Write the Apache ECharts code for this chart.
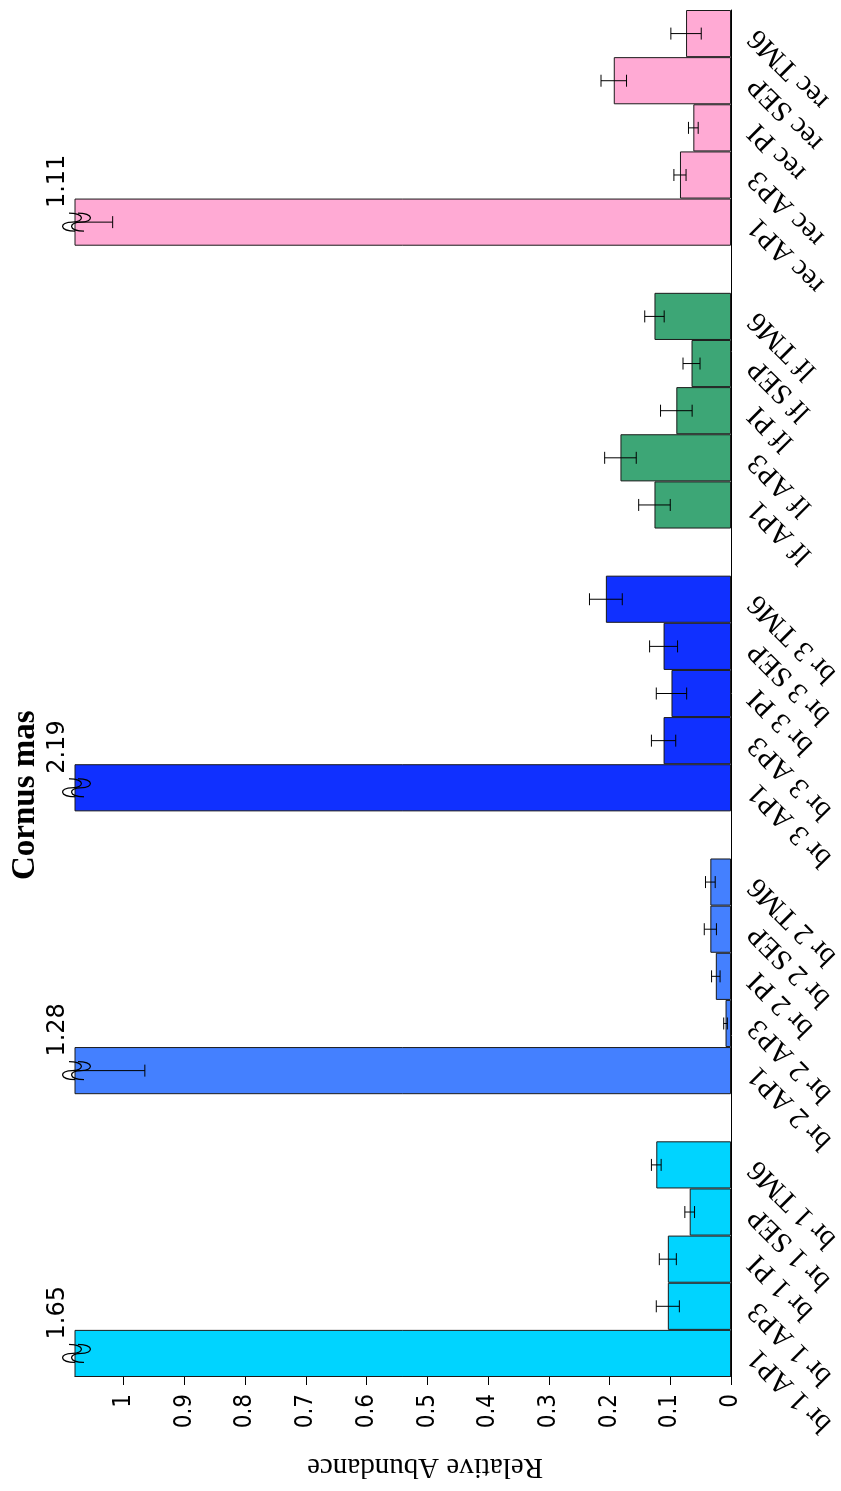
<!DOCTYPE html>
<html>
<head>
<meta charset="utf-8">
<script src="https://cdn.jsdelivr.net/npm/echarts@6/dist/echarts.min.js"></script>
<style>
  html, body { margin: 0; padding: 0; background: #ffffff; width: 841px; height: 1491px; overflow: hidden; }
  /* the chart is laid out landscape and turned a quarter turn counter-clockwise */
  #chart { position: absolute; left: 0; top: 0; width: 1491px; height: 841px;
           transform-origin: 0 0; transform: translate(0, 1491px) rotate(-90deg); }
</style>
</head>
<body>
<div id="chart"></div>
<script>
// sample groups and the five tissues measured in each
const groups = ['br 1', 'br 2', 'br 3', 'lf', 'rec'];
const samples = ['AP1', 'AP3', 'PI', 'SEP', 'TM6'];

// relative abundance (mean) and error per group, in sample order
const br1Values = [1.65, 0.104, 0.104, 0.068, 0.123];
const br1Errors = [0.12, 0.019, 0.014, 0.008, 0.008];
const br2Values = [1.28, 0.009, 0.025, 0.034, 0.034];
const br2Errors = [0.315, 0.003, 0.007, 0.010, 0.008];
const br3Values = [2.19, 0.111, 0.098, 0.111, 0.206];
const br3Errors = [0.15, 0.020, 0.025, 0.023, 0.027];
const lfValues  = [0.126, 0.182, 0.090, 0.065, 0.126];
const lfErrors  = [0.026, 0.026, 0.026, 0.014, 0.016];
const recValues = [1.11, 0.084, 0.062, 0.193, 0.074];
const recErrors = [0.092, 0.010, 0.008, 0.021, 0.025];

const groupColors = ['#00D4FF', '#4480FF', '#1030FF', '#3DA676', '#FFAAD4'];

// value axis: clipped at axisMax, ticks every 0.1 up to 1
const axisMax = 1.08;
const tickValues = [0, 0.1, 0.2, 0.3, 0.4, 0.5, 0.6, 0.7, 0.8, 0.9, 1];

const valueSets = [br1Values, br2Values, br3Values, lfValues, recValues];
const errorSets = [br1Errors, br2Errors, br3Errors, lfErrors, recErrors];

// one empty slot separates neighbouring groups
const categories = [];
const barData = [];
const errData = [];
const breakData = [];
groups.forEach((g, gi) => {
  if (gi > 0) { categories.push(''); barData.push(null); }
  samples.forEach((s, si) => {
    const idx = categories.length;
    const v = valueSets[gi][si];
    const e = errorSets[gi][si];
    categories.push(g + ' ' + s);
    barData.push({ value: v, itemStyle: { color: groupColors[gi] } });
    errData.push([idx, v, e]);
    if (v > axisMax) breakData.push([idx, v]);
  });
});

const chart = echarts.init(document.getElementById('chart'), null, { renderer: 'canvas' });

const line = (x1, y1, x2, y2) => ({
  type: 'line', shape: { x1, y1, x2, y2 },
  style: { stroke: '#000', lineWidth: 1 }
});

// a steep tilde centred on (cx, cy): one hump up, one hump down
const tildePath = (cx, cy, hw, k) =>
  'M' + (cx - hw) + ' ' + (cy + 3) +
  ' C' + (cx - hw) + ' ' + (cy - k) + ' ' + cx + ' ' + (cy - k) + ' ' + cx + ' ' + cy +
  ' C' + cx + ' ' + (cy + k) + ' ' + (cx + hw) + ' ' + (cy + k) + ' ' + (cx + hw) + ' ' + (cy - 3);

chart.setOption({
  animation: false,
  backgroundColor: '#ffffff',
  title: {
    text: 'Cornus mas', left: 606, top: 4,
    textStyle: { fontFamily: 'Liberation Serif', fontWeight: 'bold', fontSize: 33, color: '#000' }
  },
  grid: { left: 114, right: 10, top: 75, bottom: 110, containLabel: false, outerBoundsMode: 'none' },
  xAxis: {
    type: 'category', data: categories,
    axisLine: { lineStyle: { color: '#000', width: 1 } },
    axisTick: { interval: 0, length: 7, lineStyle: { color: '#000' } },
    axisLabel: { interval: 0, rotate: 45, margin: 22, color: '#000',
                 fontFamily: 'Liberation Serif', fontSize: 29 },
    splitLine: { show: false }
  },
  yAxis: {
    type: 'value', min: 0, max: axisMax,
    axisLine: { show: true, lineStyle: { color: '#000', width: 1 } },
    axisTick: { show: true, length: 8, customValues: tickValues, lineStyle: { color: '#000' } },
    axisLabel: { customValues: tickValues, margin: 17, color: '#000',
                 fontFamily: '"DejaVu Sans Condensed", "DejaVu Sans"', fontSize: 24,
                 formatter: v => String(Math.round(v * 10) / 10) },
    splitLine: { show: false }
  },
  graphic: [{
    type: 'text', x: 24, y: 425, rotation: Math.PI / 2,
    style: { text: 'Relative Abundance', fill: '#000', font: '29px "Liberation Serif"',
             textAlign: 'center', textVerticalAlign: 'middle' }
  }],
  series: [
    {
      type: 'bar', data: barData, barCategoryGap: '0%', clip: true,
      itemStyle: { borderColor: '#1a1a1a', borderWidth: 1 }
    },
    {
      // error bars, cut at the top of the value axis
      type: 'custom', data: errData, z: 3,
      renderItem: (params, api) => {
        const i = api.value(0), v = api.value(1), e = api.value(2);
        if (v - e >= axisMax) return null;
        const lo = api.coord([i, v - e]);
        const hi = api.coord([i, Math.min(v + e, axisMax)]);
        const h = 6;
        const kids = [line(lo[0], lo[1], hi[0], hi[1]), line(lo[0] - h, lo[1], lo[0] + h, lo[1])];
        if (v + e <= axisMax) kids.push(line(hi[0] - h, hi[1], hi[0] + h, hi[1]));
        return { type: 'group', children: kids };
      }
    },
    {
      // break marks and the true value of bars taller than the axis
      type: 'custom', data: breakData, z: 4,
      renderItem: (params, api) => {
        const i = api.value(0), v = api.value(1);
        const p = api.coord([i, axisMax]);
        const cx = p[0], ty = p[1];
        const wave = (dy) => ({
          type: 'path',
          shape: { pathData: tildePath(cx, ty + dy, 9, 13) },
          style: { stroke: '#000', lineWidth: 1.2, fill: null }
        });
        return {
          type: 'group',
          children: [
            wave(-3), wave(6),
            { type: 'text', x: cx + 14, y: ty - 5,
              style: { text: String(v), fill: '#000', font: '24px "DejaVu Sans"',
                       textAlign: 'left', textVerticalAlign: 'bottom' } }
          ]
        };
      }
    }
  ]
});
</script>
</body>
</html>
